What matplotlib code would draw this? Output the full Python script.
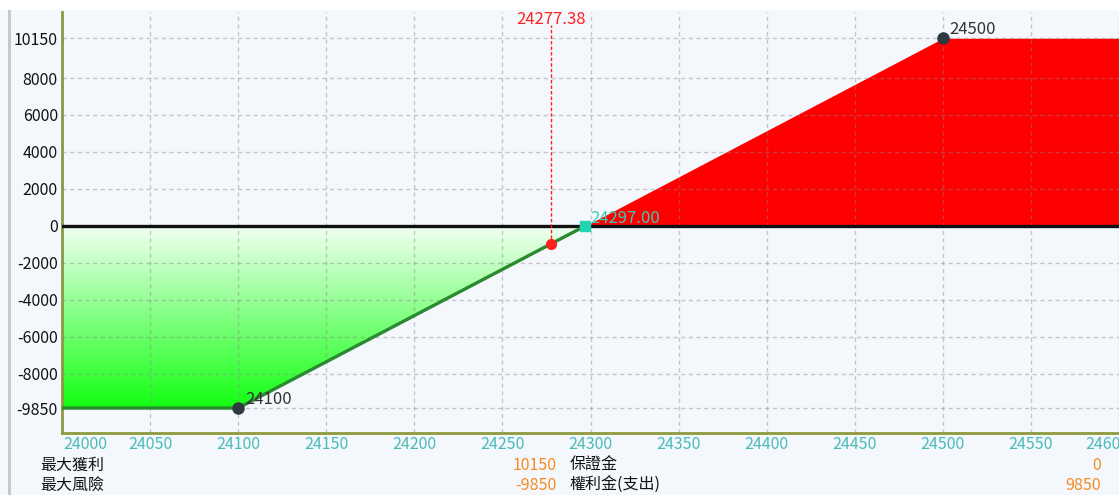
import numpy as np
import matplotlib
matplotlib.use("Agg")
import matplotlib.pyplot as plt
from matplotlib.colors import LinearSegmentedColormap
from matplotlib.patches import Polygon, Rectangle
import matplotlib.transforms as mtransforms

plt.rcParams['font.family'] = ['Noto Sans CJK TC', 'DejaVu Sans']

# ---- data ----
price_points = [24000, 24100, 24297, 24500, 24600]
payoff_points = [-9850, -9850, 0, 10150, 10150]
x_ticks = [24000, 24050, 24100, 24150, 24200, 24250, 24300, 24350, 24400, 24450, 24500, 24550, 24600]
y_ticks = [10150, 8000, 6000, 4000, 2000, 0, -2000, -4000, -6000, -8000, -9850]
strike_low, strike_high = 24100, 24500
breakeven = 24297.00
current_price = 24277.38
current_payoff = -981
summary_labels_left = ["最大獲利", "最大風險"]
summary_values_left = ["10150", "-9850"]
summary_labels_right = ["保證金", "權利金(支出)"]
summary_values_right = ["0", "9850"]

BG = '#F4F8FC'
fig = plt.figure(figsize=(11.19, 4.95), dpi=100, facecolor=BG)
ax = fig.add_axes([62/1119, 62/495, 1 - 62/1119, (433-12)/495])
ax.set_facecolor(BG)

# top white strip and left gray border
fig.patches.append(Rectangle((0, 1 - 10/495), 1, 10/495, transform=fig.transFigure,
                             facecolor='white', edgecolor='none', zorder=0))
fig.patches.append(Rectangle((8/1119, 0), 3/1119, 1 - 10/495, transform=fig.transFigure,
                             facecolor='#C8C8C8', edgecolor='none', zorder=0))

ax.set_xlim(24000, 24600)
ax.set_ylim(-11200, 11570)

px = np.array(price_points, dtype=float)
py = np.array(payoff_points, dtype=float)

# green loss region (gradient)
loss_mask = py <= 0
lx = px[loss_mask]
ly = py[loss_mask]
poly_pts = [(lx[0], 0)] + list(zip(lx, ly)) + [(lx[-1], 0)]
clip = Polygon(poly_pts, closed=True, facecolor='none', edgecolor='none', transform=ax.transData)
ax.add_patch(clip)
cmap = LinearSegmentedColormap.from_list('g', ['#12FF12', '#F2FFF2'])
grad = np.linspace(0, 1, 256).reshape(-1, 1)
im = ax.imshow(grad, cmap=cmap, aspect='auto', origin='lower',
               extent=[lx[0], lx[-1], min(ly), 0], zorder=1, interpolation='bilinear')
im.set_clip_path(clip)

# red profit region
gain_mask = py >= 0
ax.fill_between(px[gain_mask], 0, py[gain_mask], color='#FF0000', zorder=1, linewidth=0)

# grid
ax.set_xticks(x_ticks)
ax.set_yticks(y_ticks)
ax.set_axisbelow(False)
ax.grid(True, color='#888888', alpha=0.45, linestyle=(0, (3, 2.5)), linewidth=1)

# zero line
ax.axhline(0, color='#111111', linewidth=2.4, zorder=4)

# loss line
ax.plot(lx, ly, color='#2A8A30', linewidth=2.4, zorder=5, solid_capstyle='butt')

# strike markers
for s in (strike_low, strike_high):
    v = np.interp(s, px, py)
    ax.plot([s], [v], 'o', color='#2F3A40', markersize=8, zorder=6)
    ax.annotate(str(s), (s, v), xytext=(5, 3), textcoords='offset points',
                fontsize=12, color='#333333', zorder=7)

# breakeven marker
ax.plot([breakeven], [0], 's', color='#22D4B4', markersize=6.5, zorder=6)
ax.annotate(f"{breakeven:.2f}", (breakeven, 0), xytext=(4, -1), textcoords='offset points',
            fontsize=12, color='#3CC8B4', zorder=7, va='bottom')

# current price
ax.plot([current_price, current_price], [current_payoff, 10850], color='#FF2020',
        linestyle=(0, (2.5, 1.5)), linewidth=1, zorder=5)
ax.plot([current_price], [current_payoff], 'o', color='#FF2020', markersize=7, zorder=6)
ax.text(current_price, 11150, f"{current_price:.2f}", color='#FF2020', fontsize=12,
        ha='center', va='center', zorder=7)

# spines
for side in ('top', 'right'):
    ax.spines[side].set_visible(False)
for side in ('left', 'bottom'):
    ax.spines[side].set_color('#8E9A3C')
    ax.spines[side].set_linewidth(2)
ax.tick_params(axis='both', length=0)
ax.tick_params(axis='x', colors='#4ABAB8', labelsize=11.5, pad=2)
ax.tick_params(axis='y', colors='#111111', labelsize=11.5, pad=3)
ax.set_xticklabels([str(t) for t in x_ticks])
ax.set_yticklabels([str(t) for t in y_ticks])
xl = ax.get_xticklabels()
xl[0].set_horizontalalignment('left')
xl[0].set_transform(xl[0].get_transform() + mtransforms.ScaledTranslation(1/100, 0, fig.dpi_scale_trans))
xl[-1].set_transform(xl[-1].get_transform() + mtransforms.ScaledTranslation(-12/100, 0, fig.dpi_scale_trans))

# summary text
rows_y = [1 - 465/495, 1 - 485/495]
for i in range(2):
    fig.text(40/1119, rows_y[i], summary_labels_left[i], fontsize=11.5, color='#111111', va='center')
    fig.text(557/1119, rows_y[i], summary_values_left[i], fontsize=11.5, color='#F58A1F', va='center', ha='right')
    fig.text(570/1119, rows_y[i], summary_labels_right[i], fontsize=11.5, color='#111111', va='center')
    fig.text(1101/1119, rows_y[i], summary_values_right[i], fontsize=11.5, color='#F58A1F', va='center', ha='right')

fig.savefig('out.png', dpi=100, facecolor=BG)
